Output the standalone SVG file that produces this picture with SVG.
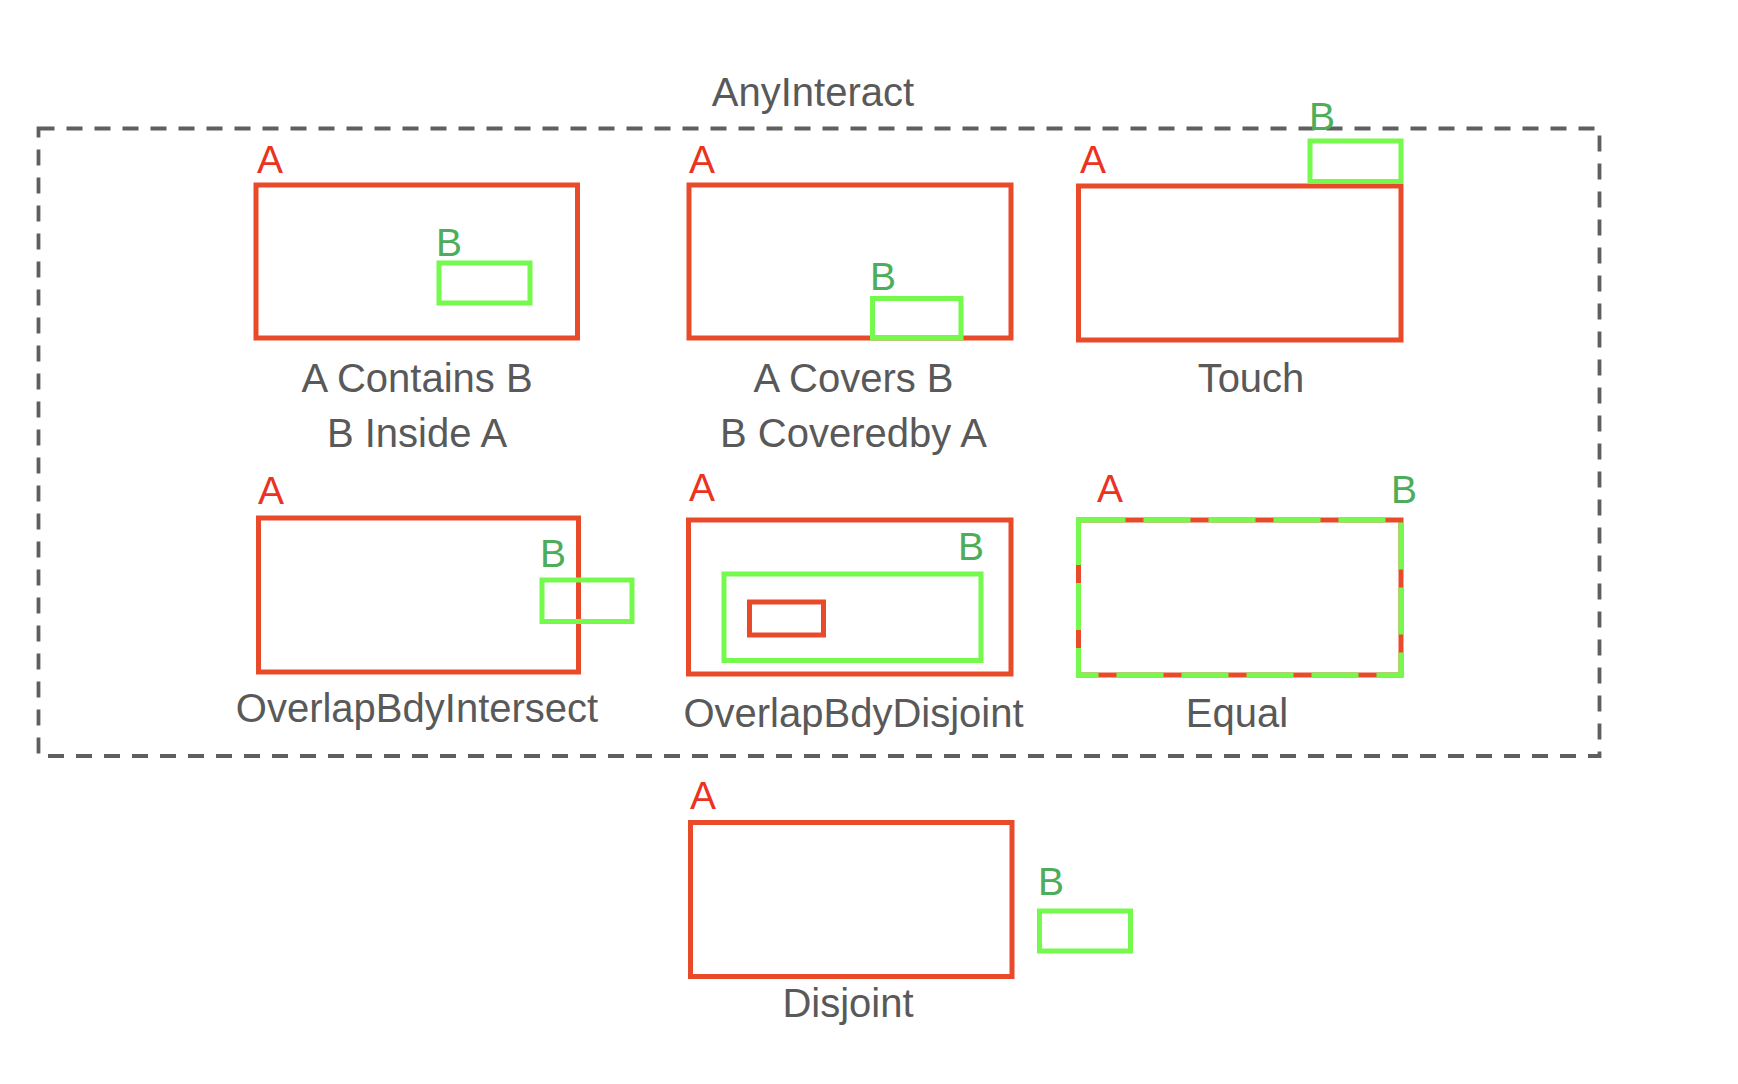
<svg xmlns="http://www.w3.org/2000/svg" width="1738" height="1084" viewBox="0 0 1738 1084">
<style>
text{font-family:"Liberation Sans",Arial,sans-serif;}
.lbl{font-size:40px;fill:#595959;text-anchor:middle;}
.ta{font-size:39px;fill:#EA3323;}
.tb{font-size:39px;fill:#4EAD5B;}
.ra{fill:none;stroke:#E94B2A;stroke-width:5;}
.rb{fill:none;stroke:#75F94C;stroke-width:5;}
.frame{fill:none;stroke:#5F5F5F;stroke-width:3.8;stroke-dasharray:16 12;}
</style>
<rect width="1738" height="1084" fill="#ffffff"/>
<g id="anyinteract">
<rect class="frame" x="38.5" y="128.5" width="1561" height="627.5"/>
<text class="lbl" x="813" y="106">AnyInteract</text>
</g>
<g id="contains">
<rect class="ra" x="256" y="185" width="321.5" height="153"/>
<text class="ta" x="257" y="173">A</text>
<rect class="rb" x="439" y="263" width="91" height="40"/>
<text class="tb" x="436" y="256">B</text>
<text class="lbl" x="417" y="392">A Contains B</text>
<text class="lbl" x="417" y="447">B Inside A</text>
</g>
<g id="covers">
<rect class="ra" x="689" y="185" width="322" height="153"/>
<text class="ta" x="689" y="173">A</text>
<rect class="rb" x="872.5" y="298.5" width="88.5" height="39.5"/>
<text class="tb" x="870" y="290">B</text>
<text class="lbl" x="853.5" y="392">A Covers B</text>
<text class="lbl" x="853.5" y="447">B Coveredby A</text>
</g>
<g id="touch">
<rect class="ra" x="1078.5" y="186" width="322.5" height="154"/>
<text class="ta" x="1080" y="173">A</text>
<rect class="rb" x="1310" y="141" width="91" height="40.5"/>
<text class="tb" x="1309" y="130">B</text>
<text class="lbl" x="1251" y="392">Touch</text>
</g>
<g id="overlapbdyintersect">
<rect class="ra" x="258.5" y="518" width="320" height="154"/>
<text class="ta" x="258" y="504">A</text>
<rect class="rb" x="542" y="580" width="90" height="41.5"/>
<text class="tb" x="540" y="567">B</text>
<text class="lbl" x="417" y="722">OverlapBdyIntersect</text>
</g>
<g id="overlapbdydisjoint">
<rect class="ra" x="688.5" y="520" width="322.5" height="154"/>
<text class="ta" x="689" y="501">A</text>
<rect class="rb" x="724" y="574" width="257" height="86.5"/>
<text class="tb" x="958" y="560">B</text>
<rect class="ra" x="749.5" y="602" width="74" height="33"/>
<text class="lbl" x="853.5" y="727">OverlapBdyDisjoint</text>
</g>
<g id="equal">
<rect class="ra" x="1078.5" y="520" width="322.5" height="155"/>
<rect class="rb" x="1078.5" y="520" width="322.5" height="155" stroke-dasharray="47 18"/>
<text class="ta" x="1097" y="502">A</text>
<text class="tb" x="1391" y="503">B</text>
<text class="lbl" x="1237" y="727">Equal</text>
</g>
<g id="disjoint">
<rect class="ra" x="690.5" y="822.5" width="321.5" height="154"/>
<text class="ta" x="690" y="809">A</text>
<rect class="rb" x="1039.5" y="911" width="91" height="40"/>
<text class="tb" x="1038" y="895">B</text>
<text class="lbl" x="848" y="1017">Disjoint</text>
</g>
</svg>
